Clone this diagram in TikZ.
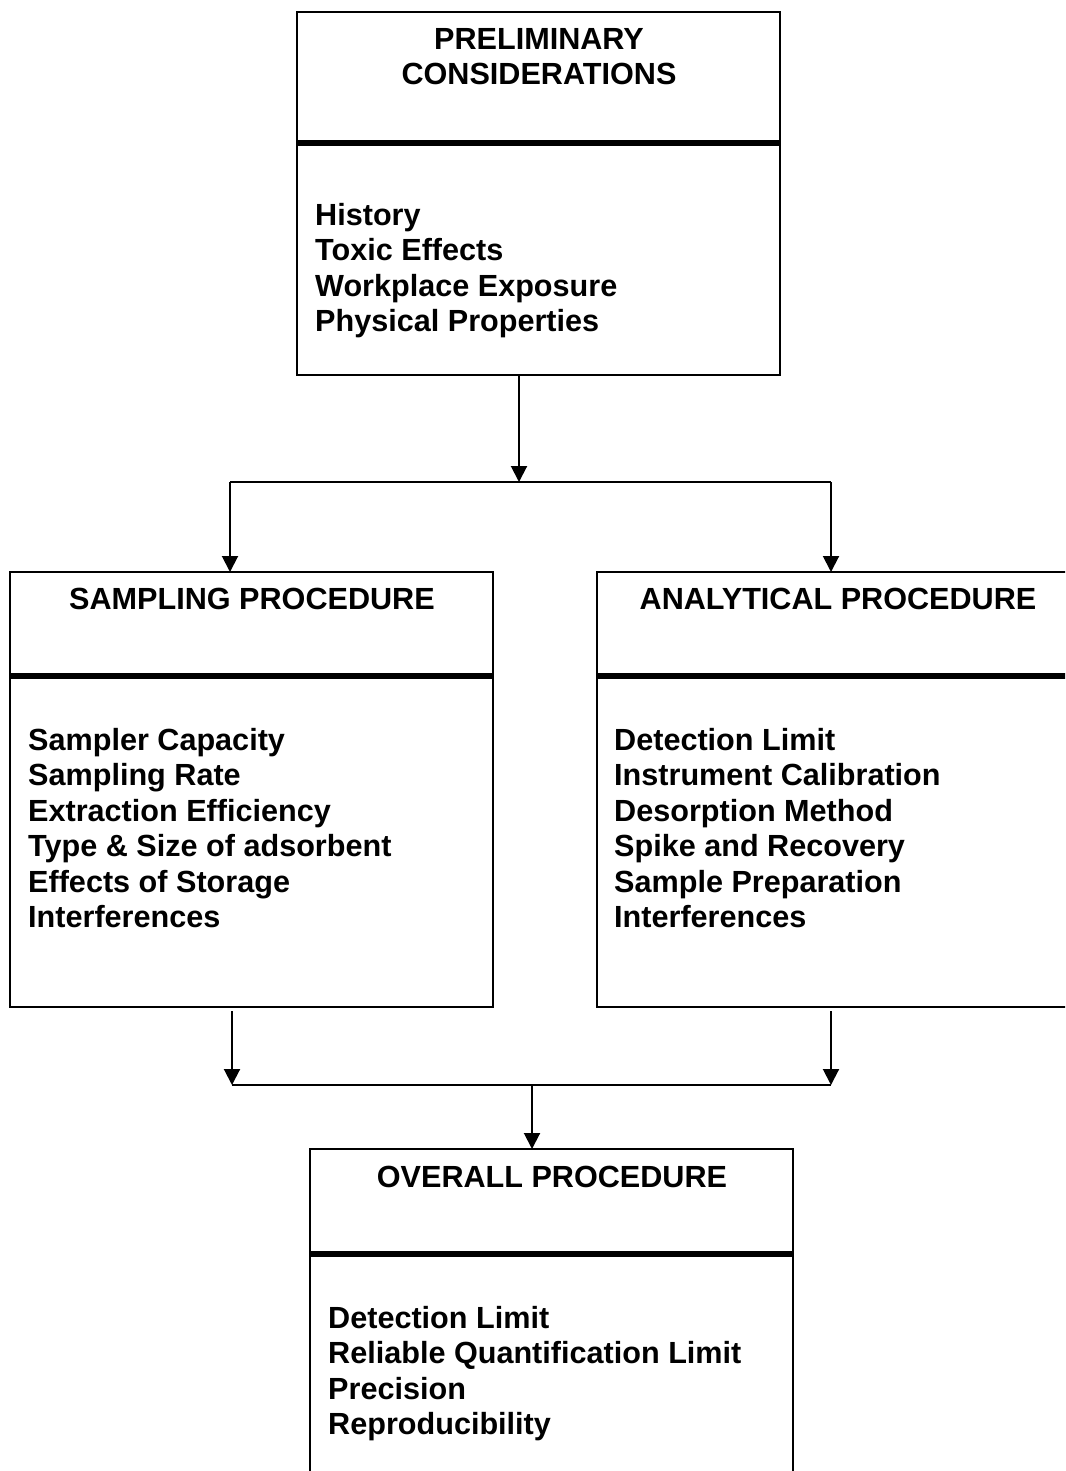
\documentclass[tikz,border=0pt]{standalone}
\usepackage{fontspec}
\setmainfont{Liberation Sans}
\usetikzlibrary{arrows.meta}
\tikzset{
  box/.style={draw=black, line width=2pt, rectangle, anchor=north west, inner sep=0pt, outer sep=0pt, minimum width=483pt},
  divider/.style={line width=5.5pt},
  conn/.style={line width=2pt},
  arr/.style={line width=2pt, -{Triangle[length=16pt,width=16pt]}},
  title/.style={anchor=base, inner sep=0pt, font=\fontsize{30.6}{35.5}\selectfont\bfseries, align=center},
  body/.style={anchor=base west, inner sep=0pt, font=\fontsize{30.6}{35.5}\selectfont\bfseries, align=left},
}
\begin{document}
\begin{tikzpicture}[x=1pt,y=-1pt]
\useasboundingbox (0,0) rectangle (1065,1471);
\clip (0,0) rectangle (1065,1471);
% boxes
\node[box, minimum height=363pt] (pre) at (297,12) {};
\node[box, minimum height=435pt] (samp) at (10,572) {};
\node[box, minimum height=435pt] (anal) at (597,572) {};
\node[box, minimum height=363pt] (over) at (310,1149) {};
% dividers
\draw[divider] (pre.west |- 0,143) -- (pre.east |- 0,143);
\draw[divider] (samp.west |- 0,676) -- (samp.east |- 0,676);
\draw[divider] (anal.west |- 0,676) -- (anal.east |- 0,676);
\draw[divider] (over.west |- 0,1254) -- (over.east |- 0,1254);
% titles
\node[title] (preT1) at (539,50) {PRELIMINARY};
\node[title] (preT2) at (539,85) {CONSIDERATIONS};
\node[title] (sampT) at (252,609) {SAMPLING PROCEDURE};
\node[title] (analT) at (838,609) {ANALYTICAL PROCEDURE};
\node[title] (overT) at (552,1187) {OVERALL PROCEDURE};
% bodies (anchored at the baseline of their last line)
\node[body] (preB) at (315,331.5) {History\\Toxic Effects\\Workplace Exposure\\Physical Properties};
\node[body] (sampB) at (28,927.5) {Sampler Capacity\\Sampling Rate\\Extraction Efficiency\\Type \& Size of adsorbent\\Effects of Storage\\Interferences};
\node[body] (analB) at (614,927.5) {Detection Limit\\Instrument Calibration\\Desorption Method\\Spike and Recovery\\Sample Preparation\\Interferences};
\node[body] (overB) at (328,1434.5) {Detection Limit\\Reliable Quantification Limit\\Precision\\Reproducibility};
% connectors
\coordinate (j1) at (519,482);
\coordinate (jL) at (230,482);
\coordinate (jR) at (831,482);
\draw[arr] (pre.south -| j1) -- (j1);
\draw[conn] (jL) -- (jR);
\draw[arr] (jL) -- (jL |- samp.north);
\draw[arr] (jR) -- (jR |- anal.north);
\coordinate (sL) at (232,1011);
\coordinate (sR) at (831,1011);
\coordinate (kL) at (232,1085);
\coordinate (kR) at (831,1085);
\coordinate (k1) at (532,1085);
\draw[arr] (sL) -- (kL);
\draw[arr] (sR) -- (kR);
\draw[conn] (kL) -- (kR);
\draw[arr] (k1) -- (k1 |- over.north);
\end{tikzpicture}
\end{document}
